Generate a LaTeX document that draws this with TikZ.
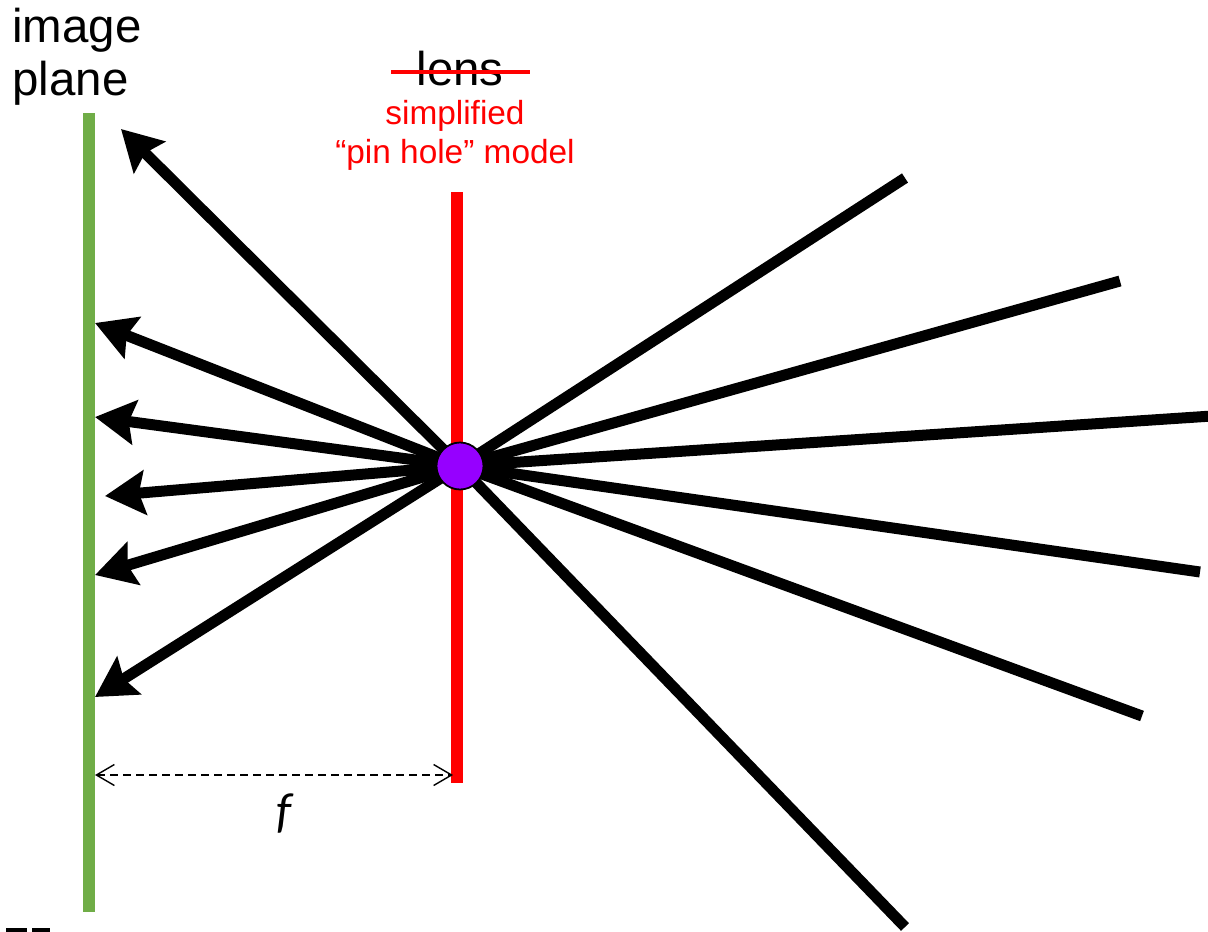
\documentclass[tikz,border=0pt]{standalone}
\usepackage{fontspec}
\setmainfont{Liberation Sans}
\newfontfamily\fitalic{Carlito}
\usetikzlibrary{arrows.meta}
\definecolor{planegreen}{RGB}{112,173,71}
\definecolor{pinviolet}{RGB}{150,0,255}
\begin{document}
\begin{tikzpicture}[x=0.02cm,y=-0.02cm,
    ray/.style={line width=0.22cm},
    back/.style={ray,-{Stealth[length=0.8cm,width=0.88cm,inset=0.12cm]}},
    dimline/.style={line width=0.8pt,dash pattern=on 0.16cm off 0.1cm,
      {Straight Barb[length=0.36cm,width=0.42cm]}-{Straight Barb[length=0.36cm,width=0.42cm]}}]
  \useasboundingbox (0,0) rectangle (1208,931);
  % image plane and lens
  \draw [planegreen,line width=0.24cm] (89,113) -- (89,912);
  \draw [red,line width=0.24cm] (457,192) -- (457,783);
  \coordinate (c) at (460,466);
  % rays leaving the pin hole
  \foreach \ex/\ey in {905/178, 1120/281, 1212/416, 1200/572, 1142/716, 905/927}
    \draw [ray] (c) -- (\ex,\ey);
  \foreach \tx/\ty in {121/129, 95/323, 95/417, 105/496, 95/575, 95/697}
    \draw [back] (c) -- (\tx,\ty);
  \node [circle,draw,line width=1pt,fill=pinviolet,minimum size=0.94cm,inner sep=0] (pin) at (c) {};
  % labels
  \node [anchor=base west,inner sep=0,align=left,font=\fontsize{27}{30}\selectfont] (imgplane) at (12,95) {image\\plane};
  \node [anchor=base,inner sep=0,font=\fontsize{27}{30}\selectfont] (lens) at (460,85) {lens};
  \draw [red,line width=0.09cm] (391,72) -- (530,72);
  \node [anchor=base,inner sep=0,align=center,text=red,font=\fontsize{19}{22.2}\selectfont] (pinmodel) at (455,163) {simplified\\``pin hole'' model};
  % focal length
  \coordinate (fl) at (95,775);
  \coordinate (fr) at (453,775);
  \draw [dimline] (fl) -- (fr);
  \node [font=\fitalic\itshape\fontsize{28}{30}\selectfont] (flen) at (284,814) {f};
  \fill (6,928) rectangle (27,932);
  \fill (32,928) rectangle (50,932);
\end{tikzpicture}
\end{document}
